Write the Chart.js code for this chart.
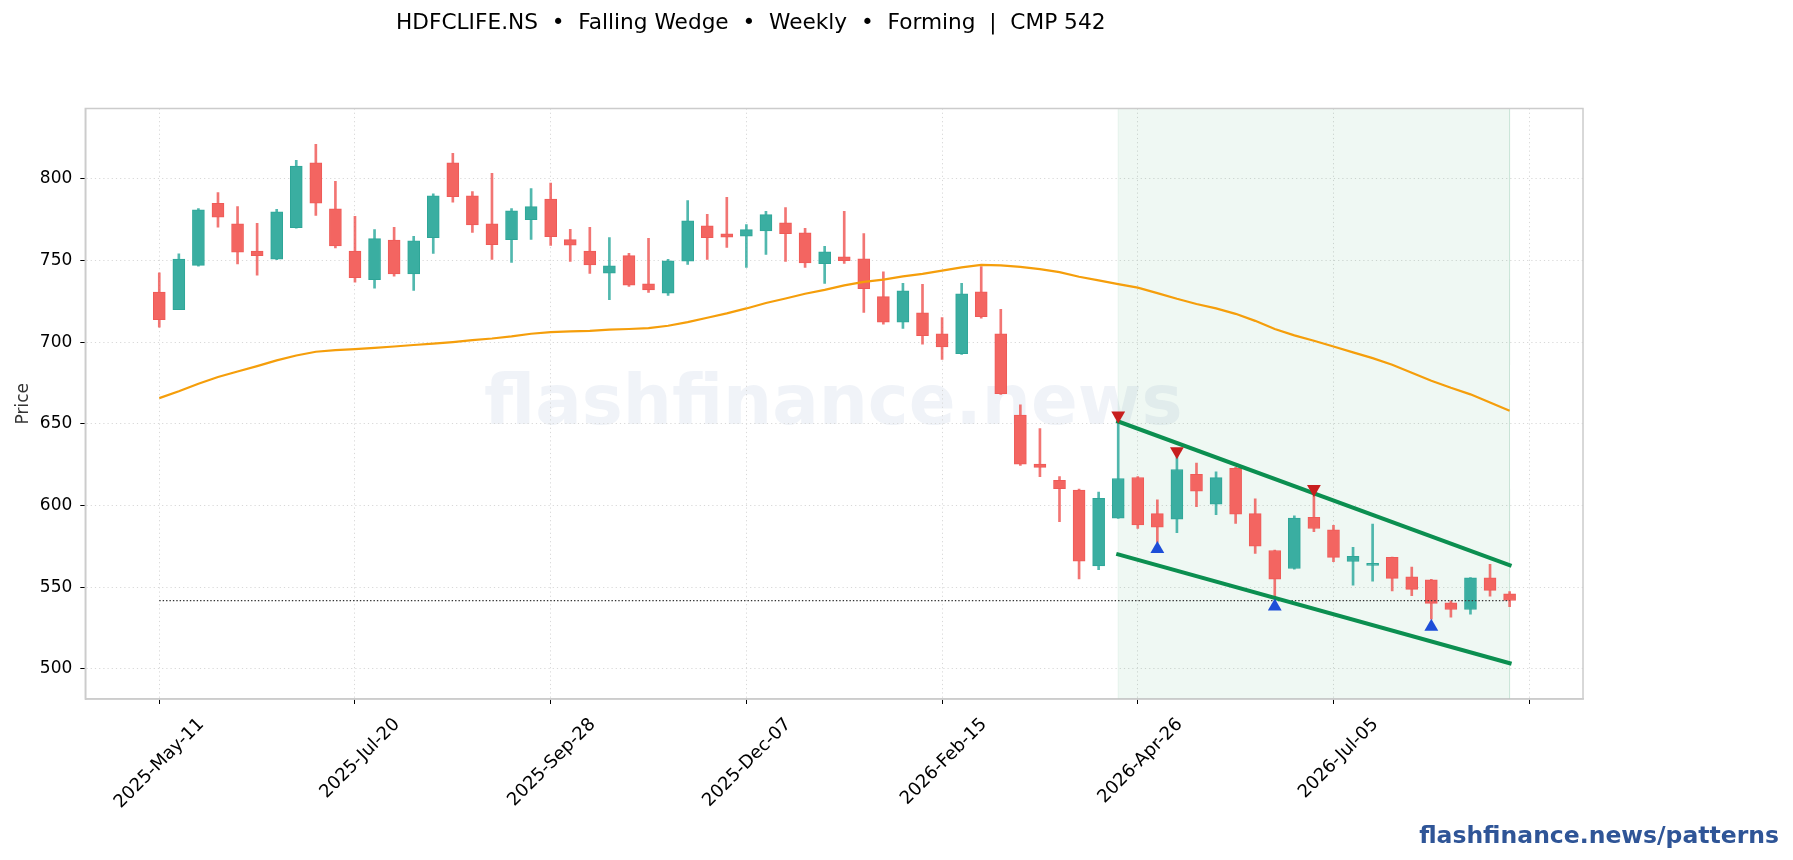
<!DOCTYPE html>
<html>
<head>
<meta charset="utf-8">
<title>HDFCLIFE.NS Falling Wedge</title>
<script src="https://cdn.jsdelivr.net/npm/chart.js@4"></script>
<style>
	body { margin: 0; background: #fff; overflow: hidden; font-family: "DejaVu Sans", sans-serif; }
	#wrap { position: relative; width: 1793px; height: 860px; }
	#chart { position: absolute; left: 0; top: 0; }
	.label { position: absolute; white-space: pre; }
	#title { left: 396px; top: 9px; font-size: 21.67px; color: #000; }
	#watermark { left: 484px; top: 360px; font-size: 69px; font-weight: bold; color: rgba(47, 85, 151, 0.07); }
	#credit { right: 14px; top: 821px; font-size: 23.5px; font-weight: bold; color: #2f5597; }
</style>
</head>
<body>
<div id="wrap">
	<div class="label" id="watermark">flashfinance.news</div>
	<canvas id="chart" width="1793" height="860"></canvas>
	<div class="label" id="title">HDFCLIFE.NS  •  Falling Wedge  •  Weekly  •  Forming  |  CMP 542</div>
	<div class="label" id="credit">flashfinance.news/patterns</div>
</div>
<script>
// weekly candles
const opens = [730.6, 719.8, 747, 785, 772.4, 755.7, 750.8, 770, 809.8, 781.6,
	755.7, 738.2, 762.4, 741.8, 763.9, 809.8, 789.6, 772.4, 762.7, 774.9,
	787.6, 762.7, 755.7, 742.2, 752.9, 735.7, 730, 749.6, 771.2, 766.3,
	764.9, 768, 773, 766.9, 748, 752.2, 751, 727.8, 712.2, 717.9,
	705.1, 692.9, 730.8, 705.1, 655.3, 625.3, 615.3, 609.4, 562.9, 592.2,
	617.1, 595, 591.6, 619, 600.8, 622.7, 595, 572.4, 561.4, 592.7,
	585.1, 565.7, 563.3, 568.2, 556.3, 554.5, 540.4, 536.3, 555.7, 545.9];
const highs = [742.4, 754, 781.8, 791.6, 783, 772.7, 781.2, 811.2, 821, 798.4,
	777, 768.8, 770.2, 764.7, 790.8, 815.5, 792.2, 803.3, 781.8, 794,
	797.3, 769, 770.2, 764, 754.3, 763.5, 750.6, 786.7, 778.2, 788.6,
	772, 780, 782.4, 769.6, 758.6, 780, 766.5, 743, 735.9, 735.3,
	715, 735.9, 746.3, 720, 661.6, 647, 617.6, 610, 608.2, 651.4,
	617.6, 603.5, 631.4, 626, 620.6, 623.3, 604, 572.7, 593.7, 606.3,
	587.8, 574.3, 588.6, 568.4, 562.2, 554.7, 541.6, 555.9, 564, 547.3];
const lows = [709.2, 719.8, 746.5, 770.4, 747.8, 741, 750.5, 769.8, 777.6, 757.6,
	736.7, 733, 740.4, 731.6, 754.3, 785.7, 767.1, 750.6, 748.8, 762.9,
	759.2, 749.4, 742, 726, 734.1, 730.4, 728.6, 747.6, 750.6, 758,
	745.7, 753.7, 749.4, 745.7, 735.9, 748.2, 718.2, 711, 708.4, 698.8,
	689.4, 692.5, 714.7, 668, 624.5, 617.6, 590, 555, 560.6, 592,
	586, 577.3, 583.3, 599.2, 594.3, 589, 570.6, 542.7, 561, 583.9,
	565.5, 551.2, 553.7, 547.6, 544.7, 530.4, 531.6, 533.5, 544.5, 538];
const closes = [713.7, 750.8, 781, 776.5, 755, 752.9, 779.8, 807.8, 785, 758.8,
	739.4, 763.3, 741.8, 762, 789.6, 789, 771.8, 759.6, 780.4, 782.9,
	764.5, 759.4, 747.3, 746.7, 734.9, 732, 749.8, 774.3, 763.9, 764.3,
	768.8, 778, 766.3, 748.4, 755.3, 749.8, 732.7, 712.2, 731.4, 703.9,
	697.1, 729.6, 715.5, 668.4, 625.3, 623.3, 610.2, 565.9, 604.3, 616.5,
	588, 586.7, 622, 608.8, 617, 594.7, 575, 554.9, 592.2, 585.9,
	568.2, 568.8, 564.5, 555.3, 548.6, 540, 536.3, 555.7, 548, 541.8];
const movingAvg = [665.7, 669.9, 674.5, 678.6, 682, 685.3, 688.8, 691.8, 694.1, 695.1,
	695.7, 696.5, 697.3, 698.2, 699, 700, 701.2, 702.2, 703.5, 705.1,
	706.1, 706.5, 706.9, 707.6, 708, 708.6, 710, 712.2, 714.9, 717.6,
	720.6, 723.9, 726.7, 729.6, 732, 734.7, 736.9, 738.2, 740.2, 741.8,
	743.7, 745.7, 747.3, 747, 746.1, 744.7, 742.8, 740, 737.8, 735.5,
	733.3, 730, 726.5, 723.3, 720.6, 717.3, 713, 708, 704.1, 700.8,
	697.3, 693.7, 690.2, 686.1, 681.2, 676.3, 672, 668, 663, 658];

const xTickLabels = ["2025-May-11", "2025-Jul-20", "2025-Sep-28", "2025-Dec-07", "2026-Feb-15", "2026-Apr-26", "2026-Jul-05"];

// pattern overlay
const wedgeX = [49, 69];
const wedgeUpper = [651.4, 563.4];
const wedgeLower = [570, 503.4];
const cmpX = [0, 69];
const cmpY = [541.7, 541.7];
const swingHighX = [49, 52, 59];
const swingHighY = [655, 633.2, 610];
const swingLowX = [51, 57, 65];
const swingLowY = [573.3, 538.2, 525.8];

const yMin = 481.5;
const yMax = 843;
const shadeX = [49, 49, 69, 69];
const shadeY = [yMin, yMax, yMax, yMin];

const RED = "rgb(243, 101, 97)";
const RED_EDGE = "rgb(239, 90, 87)";
const RED_WICK = "rgba(239, 83, 80, 0.8)";
const TEAL = "rgb(58, 174, 161)";
const TEAL_EDGE = "rgb(46, 166, 152)";
const TEAL_WICK = "rgba(38, 166, 154, 0.8)";
const GREEN = "#0b8f50";

const isUp = i => closes[i] >= opens[i];
const points = (xs, ys) => xs.map((x, i) => ({ x, y: ys[i] }));

const wicks = highs.map((high, i) => ({ x: i, y: [lows[i], high] }));
const bodies = opens.map((open, i) => ({ x: i, y: [open, closes[i]] }));

const frame = {
	id: "frame",
	afterDraw(chart) {
		const { ctx, chartArea: a } = chart;
		ctx.save();
		ctx.strokeStyle = "#ccc";
		ctx.lineWidth = 1.5;
		ctx.strokeRect(a.left, a.top, a.right - a.left, a.bottom - a.top);
		ctx.restore();
	},
};

const grid = {
	color: "#d8d8d8",
	lineWidth: 1,
	tickColor: "#000",
	tickWidth: 1,
	tickLength: 5,
	tickBorderDash: [],
	offset: false,
};
const border = { color: "#ccc", width: 1.5, dash: [1.2, 3] };

Chart.defaults.font.family = '"DejaVu Sans", sans-serif';

new Chart(document.querySelector("#chart"), {
	type: "bar",
	data: {
		datasets: [
			{
				type: "line",
				order: 9,
				data: points(shadeX, shadeY),
				borderColor: "rgba(11, 143, 80, 0.08)",
				borderWidth: 1,
				backgroundColor: "rgba(11, 143, 80, 0.065)",
				fill: "start",
				pointRadius: 0,
			},
			{
				order: 7,
				data: wicks,
				barThickness: 2,
				grouped: false,
				backgroundColor: c => (isUp(c.dataIndex) ? TEAL_WICK : RED_WICK),
			},
			{
				order: 6,
				data: bodies,
				barThickness: 12,
				grouped: false,
				borderWidth: 1,
				borderSkipped: false,
				backgroundColor: c => (isUp(c.dataIndex) ? TEAL : RED),
				borderColor: c => (isUp(c.dataIndex) ? TEAL_EDGE : RED_EDGE),
			},
			{
				type: "line",
				order: 5,
				data: movingAvg.map((y, x) => ({ x, y })),
				borderColor: "#f59e0b",
				borderWidth: 2.2,
				pointRadius: 0,
			},
			{
				type: "line",
				order: 4,
				data: points(cmpX, cmpY),
				borderColor: "#333",
				borderWidth: 1.4,
				borderDash: [1.4, 2],
				pointRadius: 0,
			},
			{
				type: "line",
				order: 3,
				data: points(wedgeX, wedgeUpper),
				borderColor: GREEN,
				borderWidth: 4,
				borderCapStyle: "square",
				pointRadius: 0,
			},
			{
				type: "line",
				order: 3,
				data: points(wedgeX, wedgeLower),
				borderColor: GREEN,
				borderWidth: 4,
				borderCapStyle: "square",
				pointRadius: 0,
			},
			{
				type: "line",
				order: 2,
				data: points(swingHighX, swingHighY),
				showLine: false,
				pointStyle: "triangle",
				pointRotation: 180,
				pointRadius: 8,
				pointBackgroundColor: "#c81e1e",
				pointBorderColor: "#c81e1e",
				pointBorderWidth: 0,
			},
			{
				type: "line",
				order: 2,
				data: points(swingLowX, swingLowY),
				showLine: false,
				pointStyle: "triangle",
				pointRadius: 8,
				pointBackgroundColor: "#1d4ed8",
				pointBorderColor: "#1d4ed8",
				pointBorderWidth: 0,
			},
		],
	},
	options: {
		responsive: false,
		animation: false,
		devicePixelRatio: 1,
		layout: { padding: { left: 0, right: 210, top: 108.5, bottom: 0 } },
		plugins: {
			legend: { display: false },
			tooltip: { enabled: false },
		},
		scales: {
			x: {
				type: "linear",
				offset: false,
				min: -3.78,
				max: 72.75,
				grid,
				border,
				ticks: {
					stepSize: 10,
					includeBounds: false,
					autoSkip: false,
					minRotation: 45,
					maxRotation: 45,
					labelOffset: 42,
					padding: 10,
					color: "#000",
					font: { size: 18 },
					callback: v => xTickLabels[v / 10] ?? "",
				},
				afterFit: scale => {
					scale.height = 161;
				},
			},
			y: {
				min: yMin,
				max: yMax,
				grid,
				border,
				title: {
					display: true,
					text: "Price",
					color: "#333",
					font: { size: 17 },
					padding: { top: 13, bottom: 0 },
				},
				ticks: {
					stepSize: 50,
					includeBounds: false,
					padding: 8,
					color: "#000",
					font: { size: 17 },
				},
				afterFit: scale => {
					scale.width = 85.3;
				},
			},
		},
	},
	plugins: [frame],
});
</script>
</body>
</html>
